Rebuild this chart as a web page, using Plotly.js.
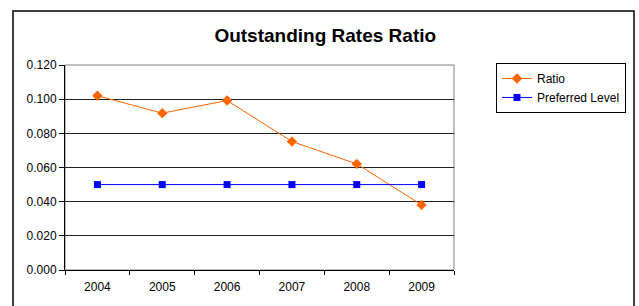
<!DOCTYPE html>
<html><head><meta charset="utf-8">
<script src="https://cdn.plot.ly/plotly-3.0.1.min.js"></script>
<style>html,body{margin:0;padding:0;background:#fff;}#chart{width:639px;height:306px;}</style>
</head><body><div id="chart"></div>
<script>
const years = ["2004","2005","2006","2007","2008","2009"];
const ratio = [0.102, 0.0918, 0.0992, 0.0752, 0.0621, 0.0381];
const preferred = [0.05, 0.05, 0.05, 0.05, 0.05, 0.05];
const yTicks = [0, 0.02, 0.04, 0.06, 0.08, 0.10, 0.12];

const data = [
  {x: years, y: ratio, name: "Ratio", type: "scatter", mode: "lines+markers",
   line: {color: "#FF6600", width: 1}, marker: {symbol: "diamond", size: 8, color: "#FF6600"}},
  {x: years, y: preferred, name: "Preferred Level", type: "scatter", mode: "lines+markers",
   line: {color: "#0000FF", width: 1}, marker: {symbol: "square", size: 7, color: "#0000FF"}}
];
const layout = {
  width: 639, height: 306,
  margin: {l: 65, r: 185, t: 65, b: 36, pad: 0},
  paper_bgcolor: "#fff", plot_bgcolor: "#fff",
  font: {family: "Liberation Sans, Arial, sans-serif", size: 12, color: "#000"},
  title: {text: "<b>Outstanding Rates Ratio</b>", font: {size: 19, color: "#000"},
          x: 0.509, xanchor: "center", y: 0.885, yanchor: "middle"},
  showlegend: true,
  legend: {x: 1.108, y: 1.01, xanchor: "left", yanchor: "top", bordercolor: "#000", borderwidth: 1,
           font: {size: 12}, bgcolor: "#fff", tracegroupgap: 2},
  xaxis: {type: "category", tickson: "boundaries", ticks: "outside", ticklen: 4, tickcolor: "#000",
          showline: true, linecolor: "#000", linewidth: 1, showgrid: false, range: [-0.5, 5.5],
          fixedrange: true, tickfont: {size: 12}, ticklabelstandoff: 6},
  yaxis: {range: [0, 0.12], tickvals: yTicks, ticktext: yTicks.map(v => v.toFixed(3)),
          ticks: "outside", ticklen: 5, tickcolor: "#000", showline: true, linecolor: "#000", linewidth: 1,
          showgrid: true, gridcolor: "#222", gridwidth: 1, zeroline: false, fixedrange: true,
          tickfont: {size: 12}},
  shapes: [
    {type: "rect", xref: "paper", yref: "paper", x0: 0, x1: 1, y0: 0, y1: 1,
     line: {color: "#808080", width: 1}, layer: "below"},
    {type: "rect", xref: "paper", yref: "paper", x0: -0.1337, x1: 1.4627, y0: -0.25, y1: 1.2634,
     line: {color: "#000", width: 1.5}, layer: "below"}
  ]
};
Plotly.newPlot("chart", data, layout, {displayModeBar: false, staticPlot: true});
</script></body></html>
